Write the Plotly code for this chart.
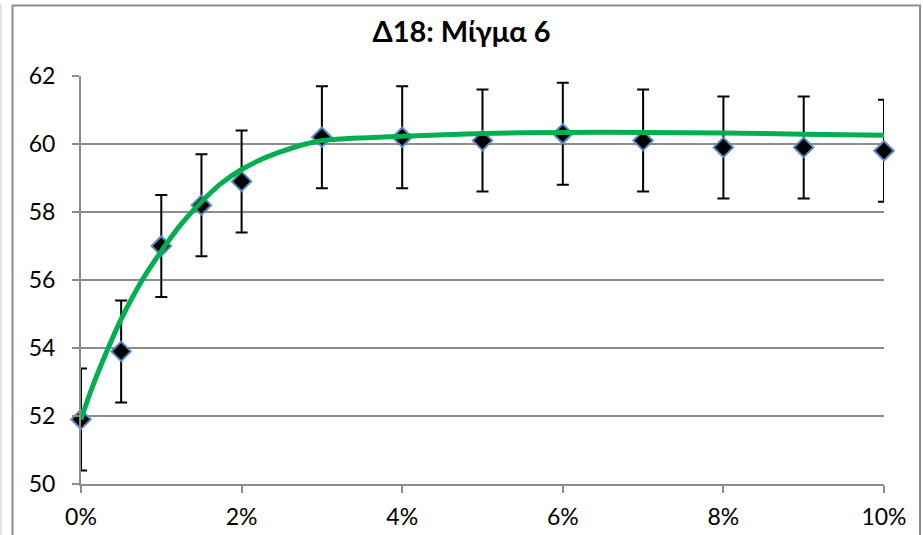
import plotly.graph_objects as go

# Measured points (additive content, %) with symmetric error
additive_pct = [0, 0.5, 1, 1.5, 2, 3, 4, 5, 6, 7, 8, 9, 10]
measured = [51.9, 53.9, 57.0, 58.2, 58.9, 60.2, 60.2, 60.1, 60.3, 60.1, 59.9, 59.9, 59.8]
error = [1.5] * len(measured)

# Trend curve through the series
trend_x = [0, 0.125, 0.25, 0.375, 0.5, 0.75, 1.0, 1.25, 1.5, 1.75, 2.0, 2.25, 2.5,
           2.75, 3.0, 3.25, 3.5, 4, 5, 6, 7, 8, 9, 10]
trend_y = [51.9, 52.75, 53.5, 54.2, 54.85, 55.95, 56.85, 57.65, 58.3, 58.85, 59.25,
           59.55, 59.78, 59.97, 60.1, 60.15, 60.18, 60.23, 60.31, 60.34, 60.34,
           60.32, 60.29, 60.26]

y_ticks = [50, 52, 54, 56, 58, 60, 62]
x_ticks = [0, 2, 4, 6, 8, 10]

W, H = 923, 535
L, R, T, B = 81, 884, 76, 484

fig = go.Figure()
fig.add_trace(go.Scatter(
    x=additive_pct, y=measured, mode="markers",
    marker=dict(symbol="diamond", size=15, color="black",
                line=dict(color="#5a8ac6", width=2)),
    error_y=dict(type="data", array=error, visible=True,
                 color="black", thickness=2, width=6),
    showlegend=False, cliponaxis=False,
))
fig.add_trace(go.Scatter(
    x=trend_x, y=trend_y, mode="lines",
    line=dict(color="#00b050", width=5, shape="spline", smoothing=0.7),
    showlegend=False, cliponaxis=False,
))

def px_x(p):
    return (p - L) / (R - L)

def px_y(p):
    return (B - p) / (B - T)

fig.update_layout(
    width=W, height=H, autosize=False,
    margin=dict(l=L, r=W - R, t=T, b=H - B),
    paper_bgcolor="white", plot_bgcolor="white",
    font=dict(family="Lato, sans-serif", size=23, color="black"),
    title=dict(text="<b>Δ18: Μίγμα 6</b>", x=0.5, xref="container", xanchor="center",
               y=1 - 32 / H, yanchor="middle", yref="container",
               font=dict(size=29, family="Lato, sans-serif", color="black")),
    xaxis=dict(range=[0, 10], tickvals=x_ticks, ticktext=[f"{v}%" for v in x_ticks],
               showgrid=False, zeroline=False, showline=True, linecolor="#8c8c8c",
               linewidth=2, ticks="outside", ticklen=7, tickcolor="#8c8c8c",
               tickwidth=1.5, ticklabelstandoff=4, automargin=False, fixedrange=True),
    yaxis=dict(range=[50, 62], tickvals=y_ticks, showgrid=True, gridcolor="#8c8c8c",
               gridwidth=1.5, zeroline=False, showline=True, linecolor="#8c8c8c",
               linewidth=2, ticks="outside", ticklen=7, tickcolor="#8c8c8c",
               tickwidth=1.5, ticklabelstandoff=12, automargin=False, fixedrange=True),
    shapes=[
        # chart frame
        dict(type="rect", xref="paper", yref="paper",
             x0=px_x(12.5), x1=px_x(920), y0=px_y(545), y1=px_y(5.5),
             line=dict(color="#8c8c8c", width=2), fillcolor="rgba(0,0,0,0)", layer="below"),
        # faint outer edge on the left
        dict(type="line", xref="paper", yref="paper",
             x0=px_x(1), x1=px_x(1), y0=px_y(545), y1=px_y(4),
             line=dict(color="#c8c8c8", width=1)),
    ],
)

fig.write_html("out.html")
